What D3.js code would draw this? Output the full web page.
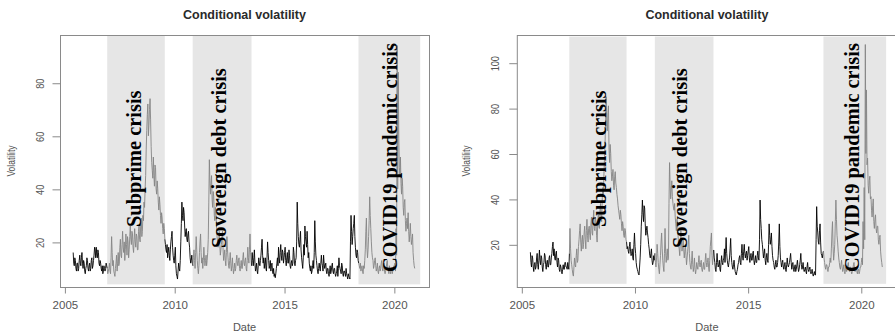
<!DOCTYPE html>
<html>
<head>
<meta charset="utf-8">
<script src="https://cdn.jsdelivr.net/npm/d3@7"></script>
<style>
  html, body { margin: 0; padding: 0; background: #fff; }
  svg { display: block; }
</style>
</head>
<body>
<script>
// ---------------- DATA ----------------
const startYear = 2005.40;   // first observation (decimal year)
const stepYears = 0.025;     // spacing between observations

const xTickValues = [2005, 2010, 2015, 2020];
const leftYTickValues = [20, 40, 60, 80];
const rightYTickValues = [20, 40, 60, 80, 100];

const crisisNames = ["Subprime crisis", "Sovereign debt crisis", "COVID19 pandemic crisis"];
const leftCrisisPeriods = [[2006.95, 2009.57], [2010.84, 2013.52], [2018.39, 2021.20]];
const rightCrisisPeriods = [[2007.12, 2009.65], [2010.90, 2013.49], [2018.35, 2021.12]];

const leftValues = [
  // 2005.40 - 2005.975
  16,12, 11,14, 13,10, 9,12, 12,9, 10,13, 15,12, 11,14, 16,12, 10,13, 12,9, 8,10,
  // 2006
  11,14, 13,10, 9,11, 12,9, 10,13, 14,10, 11,13, 15,18, 17,14, 18,15, 14,17, 16,12, 11,13, 12,10, 9,11, 8,9, 11,10, 9,10, 12,11, 10,8,
  // 2007
  9,10, 12,9, 8,14, 22,16, 11,13, 9,8, 7,10, 12,15, 9,12, 16,11, 12,18, 21,15, 14,19, 24,18, 16,20, 13,17, 23,19, 15,22, 20,14, 17,22,
  // 2008
  26,21, 19,24, 23,18, 16,21, 25,20, 18,23, 22,17, 17,24, 26,21, 20,27, 29,22, 24,30, 28,35, 33,40, 45,55, 62,68, 72,60, 64,70, 74,66, 56,50,
  // 2009
  47,44, 52,45, 41,49, 48,40, 38,43, 40,35, 32,37, 34,30, 27,31, 29,25, 23,27, 25,21, 19,17, 16,19, 14,16, 18,15, 13,17, 20,22, 24,18, 15,13,
  // 2010
  12,15, 18,11, 8,7, 6,9, 12,10, 9,13, 20,27, 35,30, 28,33, 31,26, 22,24, 25,21, 20,23, 24,20, 18,14, 12,13, 15,12, 11,14, 17,13, 10,16,
  // 2011
  22,17, 13,10, 8,11, 16,20, 23,16, 12,14, 10,13, 18,14, 11,13, 15,11, 13,16, 21,35, 51,43, 38,42, 45,36, 33,39, 37,30, 28,33, 31,26, 22,20,
  // 2012
  18,21, 24,19, 15,17, 19,22, 24,17, 13,15, 17,13, 11,16, 22,17, 14,11, 10,13, 16,12, 9,11, 14,10, 8,10, 12,9, 10,13, 15,12, 11,13, 14,10,
  // 2013
  9,11, 13,10, 10,14, 16,12, 11,13, 14,10, 9,13, 18,14, 12,17, 23,16, 13,11, 16,13, 11,14, 17,12, 9,10, 12,9, 8,11, 14,12, 11,13, 15,18,
  // 2014
  21,15, 12,14, 10,12, 14,10, 9,14, 20,16, 13,10, 11,13, 9,11, 12,9, 8,10, 7,8, 6.5,8, 10,12, 14,11, 18,14, 12,16, 19,15, 13,17, 16,12,
  // 2015
  14,16, 18,13, 11,14, 16,12, 12,17, 15,11, 10,12, 13,11, 12,18, 16,12, 11,13, 14,20, 35,27, 22,19, 18,21, 24,17, 14,12, 10,14, 19,15, 26,22,
  // 2016
  20,18, 24,19, 14,16, 12,10, 9,11, 8,9, 11,13, 10,16, 28,20, 15,13, 11,9, 8,10, 12,10, 9,12, 15,12, 11,9, 15,12, 10,11, 12,9, 8,10,
  // 2017
  10,8, 7,9, 11,8, 9,11, 12,9, 8,10, 10,8, 7,8, 9,11, 7,10, 14,11, 10,9, 8,12, 11,8, 7,9, 9,8, 7,10, 8,7, 6,8, 7,6.5,
  // 2018
  6,20, 30,24, 19,22, 25,27, 30,22, 18,15, 14,17, 16,13, 12,11, 10,12, 9,10, 11,9, 8,11, 10,13, 17,24, 29,18, 14,17, 22,28, 37,30, 25,20,
  // 2019
  16,14, 13,10, 11,13, 14,11, 9,10, 12,9, 8,10, 11,9, 10,12, 13,10, 9,11, 12,9, 8,9, 10,12, 13,10, 9,8, 11,9, 8,10, 10,8, 9,10,
  // 2020 (to 2020.95)
  11,10, 12,9, 25,15, 94,40, 84,59, 48,45, 52,42, 38,44, 41,33, 30,35, 36,28, 24,27, 29,25, 31,24, 20,23, 27,22, 19,21, 23,16, 13,11, 10
];

const rightValues = [
  // 2005.40 - 2005.975
  16.5,12, 10,15, 14,10, 8,11, 12,9, 10,14, 16,11, 9,13, 17.5,13, 11,15, 14,10, 8,11,
  // 2006
  12,16, 15,11, 9,12, 13,10, 10,14, 15,11, 11,14, 16,19, 21,15, 18,14, 13,16, 17,12, 10,14, 13,9, 8,11, 10,8, 7,9, 11,9, 9,12, 12,10,
  // 2007
  10,9, 12,10, 9,16, 27,18, 13,11, 9,7, 6,10, 14,11, 10,15, 18,12, 13,19, 22,26, 29,21, 17,22, 24,18, 20,25, 28,22, 18,26, 31,24, 21,27,
  // 2008
  28,24, 22,29, 32,25, 24,31, 35,27, 26,32, 30,24, 21,29, 33,28, 27,35, 38,31, 30,40, 45,42, 51,58, 64,76, 85,72, 70,78, 81,62, 56,64, 60,52,
  // 2009
  48,50, 53,46, 44,50, 52,47, 45,42, 40,37, 35,33, 31,35, 33,29, 26,30, 28,24, 23,27, 26,22, 21,18, 19,17, 16,19, 21,17, 15,16, 18,14, 13,20,
  // 2010
  25,19, 16,12, 10,9, 8,7, 6.5,10, 14,20, 28,33, 39.5,34, 30,37, 36,29, 24,26, 28,25, 23,20, 18,15, 14,16, 18,13, 11,12, 15,13, 16,12, 10,14,
  // 2011
  20,16, 12,9, 7,11, 15,21, 25,18, 13,10, 8,16, 27,17, 12,15, 18,13, 14,38, 56,46, 40,44, 48,41, 38,36, 35,38, 32,29, 26,31, 30,24, 20,18,
  // 2012
  15,20, 26,21, 17,19, 22,18, 14,17, 20,15, 11,14, 17,20, 24,16, 12,10, 9,13, 17,11, 8,10, 14,9, 7,9, 12,10, 9,12, 15,11, 10,12, 13,9,
  // 2013
  8,10, 12,9, 9,13, 16,12, 10,12, 14,10, 8,13, 19,22, 25,15, 11,14, 17.5,14, 12,9, 8,12, 16,12, 10,11, 13,9, 8,12, 15,12, 11,13, 14,18,
  // 2014
  12,17, 23,16, 13,11, 10,12, 14,18, 22.6,15, 12,10, 9,11, 13,10, 8,7, 6.5,8, 9,11, 12,14, 15,12, 11,16, 20,15, 13,17, 20,16, 14,16, 17,13,
  // 2015
  15,17, 19,14, 12,15, 16,13, 13,16, 17,13, 11,13, 15,12, 12,15, 17,14, 13,22, 39.5,31, 27,22, 20,17, 14,16, 18,13, 11,14, 16,13, 12,20, 29,24,
  // 2016
  20,22, 25,19, 15,13, 12,10, 9,11, 13,10, 10,12, 15,21, 29,19, 14,12, 10,12, 13,10, 9,11, 12,9, 8,11, 14,11, 10,11, 12,14, 16,12, 9,11,
  // 2017
  12,9, 8,10, 11,8, 9,11, 13,10, 8,9, 11,13, 16,11, 9,10, 12,9, 8,9, 10,8, 7,10, 12,9, 8,9, 10,8, 7,8, 9,7, 6,7, 8,6.5,
  // 2018
  6.5,22, 36.6,28, 25,21, 20,26, 29,21, 16,15, 14,16, 17,14, 12,10, 9,11, 11,9, 8,10, 10,12, 14,12, 18,25, 30,19, 13,16, 20,30, 39.5,31, 24,21,
  // 2019
  17,14, 12,10, 9,11, 13,10, 8,9, 11,8, 7,9, 10,8, 9,11, 12,9, 8,10, 10,8, 7,8, 9,11, 12,9, 8,9, 10,8, 7,9, 9,7, 8,10,
  // 2020 (to 2020.95)
  10,12, 14,11, 30,18, 45,22, 108,60, 88,55, 58,46, 42.5,48, 50,40, 41,35, 32,37, 40,30, 27,31, 33,27, 25,28, 28,22, 20,23, 24,17, 14,12, 10
];

// ---------------- LAYOUT ----------------
const W = 895, H = 334;
const svg = d3.select("body").append("svg")
  .attr("width", W).attr("height", H)
  .style("font-family", "'Liberation Sans', Arial, sans-serif");
svg.append("rect").attr("width", W).attr("height", H).attr("fill", "#fff");

const BOX = "#8a8a8a", TXT = "#555", SHADE = "#e6e6e6", GRAYLINE = "#858585";

function drawPanel(cfg) {
  const g = svg.append("g");
  const x = d3.scaleLinear().domain([2004.8, 2021.6]).range([cfg.left, cfg.right]);
  const y = d3.scaleLinear().domain(cfg.yDomain).range([287, 35]);

  // crisis shading
  g.selectAll("rect.shade").data(cfg.crises).join("rect")
    .attr("class", "shade")
    .attr("x", d => x(d[0])).attr("width", d => x(d[1]) - x(d[0]))
    .attr("y", y(cfg.shadeY[1])).attr("height", y(cfg.shadeY[0]) - y(cfg.shadeY[1]))
    .attr("fill", SHADE);

  // series, split in black/gray runs
  const pts = cfg.values.map((v, i) => ({ t: startYear + i * stepYears, v }));
  const inCrisis = t => cfg.crises.some(c => t >= c[0] && t <= c[1]);
  const runs = [];
  let cur = null;
  for (let i = 0; i < pts.length - 1; i++) {
    const gr = inCrisis((pts[i].t + pts[i + 1].t) / 2);
    if (!cur || cur.gray !== gr) { cur = { gray: gr, pts: [pts[i]] }; runs.push(cur); }
    cur.pts.push(pts[i + 1]);
  }
  const line = d3.line().x(d => x(d.t)).y(d => y(d.v));
  g.selectAll("path.series").data(runs).join("path")
    .attr("class", "series")
    .attr("d", d => line(d.pts))
    .attr("fill", "none")
    .attr("stroke", d => d.gray ? GRAYLINE : "#000")
    .attr("stroke-width", 0.9)
    .attr("stroke-linejoin", "round");

  // crisis labels
  g.selectAll("text.crisis").data(crisisNames).join("text")
    .attr("class", "crisis")
    .attr("transform", (d, i) => `translate(${cfg.labelPos[i][0]},${cfg.labelPos[i][1]}) rotate(-90)`)
    .attr("text-anchor", "start")
    .style("font-family", "'Liberation Serif', 'Times New Roman', serif")
    .style("font-weight", "bold")
    .style("font-size", "20.4px")
    .attr("fill", "#000")
    .text(d => d);

  // box
  g.append("rect")
    .attr("x", cfg.left + 0.5).attr("y", 35.5)
    .attr("width", cfg.right - cfg.left).attr("height", 252)
    .attr("fill", "none").attr("stroke", BOX).attr("stroke-width", 1);

  // x axis
  const xa = g.append("g").attr("transform", `translate(0.5,287.5)`)
    .call(d3.axisBottom(x).tickValues(xTickValues).tickSize(6).tickPadding(7).tickFormat(d3.format("d")));
  xa.select(".domain").remove();
  xa.selectAll("line").attr("stroke", BOX);
  xa.selectAll("text").attr("fill", TXT).style("font-size", "11.5px").style("font-family", "'Liberation Sans', Arial, sans-serif");

  // y axis
  const ya = g.append("g").attr("transform", `translate(${cfg.left + 0.5},0.5)`)
    .call(d3.axisLeft(y).tickValues(cfg.yTicks).tickSize(8));
  ya.select(".domain").remove();
  ya.selectAll("line").attr("stroke", BOX);
  ya.selectAll("text")
    .attr("x", null).attr("dy", null)
    .attr("transform", `translate(${cfg.yLabelDx},0) rotate(-90) scale(0.8,1)`)
    .attr("text-anchor", "middle")
    .attr("fill", TXT).style("font-size", "11.5px").style("font-family", "'Liberation Sans', Arial, sans-serif");

  // title
  g.append("text")
    .attr("x", (cfg.left + cfg.right) / 2).attr("y", 18.5)
    .attr("text-anchor", "middle")
    .style("font-weight", "bold").style("font-size", "12.5px")
    .attr("fill", "#2a2a2a")
    .text("Conditional volatility");

  // axis titles
  g.append("text")
    .attr("x", (cfg.left + cfg.right) / 2).attr("y", 331)
    .attr("text-anchor", "middle").style("font-size", "11px").attr("fill", TXT)
    .text("Date");
  g.append("text")
    .attr("transform", `translate(${cfg.yTitleX},161) rotate(-90) scale(0.85,1)`)
    .attr("text-anchor", "middle").style("font-size", "10px").attr("fill", TXT)
    .text("Volatility");
}

drawPanel({
  left: 60, right: 429,
  yDomain: [3, 98], yTicks: leftYTickValues,
  values: leftValues, crises: leftCrisisPeriods, shadeY: [4.0, 97.8],
  labelPos: [[141, 227], [226, 248], [397, 272]],
  yLabelDx: -17, yTitleX: 15
});
drawPanel({
  left: 516.8, right: 897,
  yDomain: [1.2, 112.2], yTicks: rightYTickValues,
  values: rightValues, crises: rightCrisisPeriods, shadeY: [2.6, 111.5],
  labelPos: [[605.5, 227], [687, 248], [859, 272]],
  yLabelDx: -18.2, yTitleX: 470
});
</script>
</body>
</html>
